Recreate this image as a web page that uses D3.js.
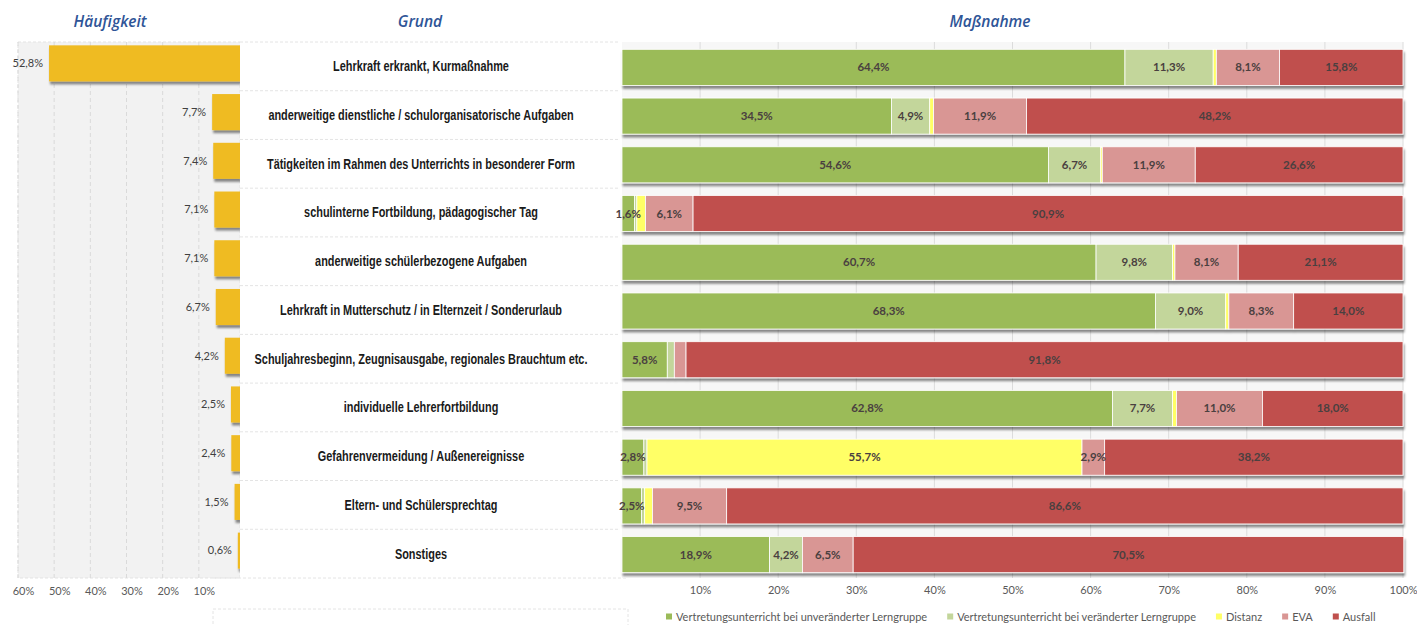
<!DOCTYPE html>
<html>
<head>
<meta charset="utf-8">
<script src="https://cdn.jsdelivr.net/npm/d3@7"></script>
<style>
  body { margin: 0; background: #fff; }
  svg { display: block; }
  .head { font-family: "Open Sans", sans-serif; font-style: italic; font-weight: 600; font-size: 15.5px; fill: #2f5597; }
  .reason { font-family: "Liberation Sans Narrow", "Arial Narrow", "Liberation Sans", Arial, sans-serif; font-weight: bold; font-size: 14px; fill: #1a1a1a; }
  .val { font-family: Lato, sans-serif; font-size: 11px; fill: #404040; }
  .seg { font-family: Lato, sans-serif; font-weight: bold; font-size: 11.5px; fill: #4a4040; }
  .axis text { font-family: Lato, sans-serif; font-size: 11px; fill: #595959; }
  .legend text { font-family: Lato, sans-serif; font-size: 11px; fill: #595959; }
</style>
</head>
<body>
<svg id="chart" width="1417" height="625"></svg>
<script>
// reasons (Grund), top to bottom
const reasons = [
  "Lehrkraft erkrankt, Kurmaßnahme",
  "anderweitige dienstliche / schulorganisatorische Aufgaben",
  "Tätigkeiten im Rahmen des Unterrichts in besonderer Form",
  "schulinterne Fortbildung, pädagogischer Tag",
  "anderweitige schülerbezogene Aufgaben",
  "Lehrkraft in Mutterschutz / in Elternzeit / Sonderurlaub",
  "Schuljahresbeginn, Zeugnisausgabe, regionales Brauchtum etc.",
  "individuelle Lehrerfortbildung",
  "Gefahrenvermeidung / Außenereignisse",
  "Eltern- und Schülersprechtag",
  "Sonstiges"
];

// Häufigkeit (%)
const frequency = [52.8, 7.7, 7.4, 7.1, 7.1, 6.7, 4.2, 2.5, 2.4, 1.5, 0.6];

// Maßnahme series (% per reason)
const measures = [
  "Vertretungsunterricht bei unveränderter Lerngruppe",
  "Vertretungsunterricht bei veränderter Lerngruppe",
  "Distanz",
  "EVA",
  "Ausfall"
];
const unchangedGroup = [64.4, 34.5, 54.6, 1.6, 60.7, 68.3, 5.8, 62.8, 2.8, 2.5, 18.9];
const changedGroup   = [11.3, 4.9, 6.7, 0.3, 9.8, 9.0, 0.9, 7.7, 0.4, 0.4, 4.2];
const distance       = [0.4, 0.5, 0.2, 1.1, 0.3, 0.4, 0.0, 0.5, 55.7, 1.0, 0.0];
const eva            = [8.1, 11.9, 11.9, 6.1, 8.1, 8.3, 1.5, 11.0, 2.9, 9.5, 6.5];
const cancelled      = [15.8, 48.2, 26.6, 90.9, 21.1, 14.0, 91.8, 18.0, 38.2, 86.6, 70.5];

const headers = ["Häufigkeit", "Grund", "Maßnahme"];
const leftTicks = [60, 50, 40, 30, 20, 10];
const rightTicks = [10, 20, 30, 40, 50, 60, 70, 80, 90, 100];

const colors = ["#9bbb59", "#c3d69b", "#ffff66", "#d99694", "#c0504d"];

const pct = d => d3.format(".1f")(d).replace(".", ",") + "%";

const svg = d3.select("#chart");

// shadow under bars
const defs = svg.append("defs");
const f = defs.append("filter").attr("id", "shadow")
  .attr("x", "-5%").attr("y", "-20%").attr("width", "110%").attr("height", "150%");
f.append("feDropShadow").attr("dx", 1).attr("dy", 3).attr("stdDeviation", 1.2)
  .attr("flood-color", "#000").attr("flood-opacity", 0.45);

const plotTop = 42, plotBottom = 578;
const y = d3.scaleBand().domain(reasons).range([plotTop, plotBottom])
  .paddingInner(0.26).paddingOuter(0.13);
const rowY = d3.scaleBand().domain(reasons).range([plotTop, plotBottom]);

/* ---- headers ---- */
svg.append("g").selectAll("text").data(headers).join("text")
  .attr("class", "head")
  .attr("x", (d, i) => [110, 420, 990][i]).attr("y", 27)
  .attr("text-anchor", "middle")
  .text(d => d);

/* ---- left panel: Häufigkeit ---- */
const xL = d3.scaleLinear().domain([0, 60]).range([240, 23]);

svg.append("rect").attr("x", 18).attr("y", plotTop).attr("width", 222).attr("height", plotBottom - plotTop)
  .attr("fill", "#f2f2f2").attr("stroke", "#e3e3e3").attr("stroke-dasharray", "3,2");

svg.append("g").selectAll("line").data(leftTicks).join("line")
  .attr("x1", d => xL(d) - 5).attr("x2", d => xL(d) - 5)
  .attr("y1", plotTop).attr("y2", plotBottom)
  .attr("stroke", "#dadada").attr("stroke-dasharray", "4,3");

svg.append("g").attr("filter", "url(#shadow)")
  .selectAll("rect").data(frequency).join("rect")
  .attr("x", d => xL(d)).attr("width", d => xL(0) - xL(d))
  .attr("y", (d, i) => y(reasons[i]) - 3).attr("height", y.bandwidth())
  .attr("fill", "#efbb24");

svg.append("g").selectAll("text").data(frequency).join("text")
  .attr("class", "val")
  .attr("x", d => xL(d) - 6).attr("y", (d, i) => y(reasons[i]) + y.bandwidth() / 2 - 3)
  .attr("dy", "0.35em").attr("text-anchor", "end")
  .text(pct);

const axL = svg.append("g").attr("class", "axis")
  .attr("transform", `translate(0,${plotBottom + 6})`)
  .call(d3.axisBottom(xL).tickValues(leftTicks).tickSize(0).tickFormat(d => d + "%"));
axL.select(".domain").remove();

/* ---- middle panel: Grund ---- */
svg.append("rect").attr("x", 240).attr("y", plotTop).attr("width", 380).attr("height", plotBottom - plotTop)
  .attr("fill", "#fff");
svg.append("g").selectAll("line").data(reasons.slice(1)).join("line")
  .attr("x1", 240).attr("x2", 620)
  .attr("y1", d => rowY(d)).attr("y2", d => rowY(d))
  .attr("stroke", "#e4e4e4").attr("stroke-dasharray", "3,2");
svg.append("line").attr("x1", 213).attr("x2", 628).attr("y1", plotBottom).attr("y2", plotBottom)
  .attr("stroke", "#e4e4e4").attr("stroke-dasharray", "3,2");
svg.append("line").attr("x1", 240).attr("x2", 620).attr("y1", plotTop).attr("y2", plotTop)
  .attr("stroke", "#e4e4e4").attr("stroke-dasharray", "3,2");
// empty legend box of the middle chart
svg.append("rect").attr("x", 213).attr("y", 609).attr("width", 415).attr("height", 30)
  .attr("fill", "none").attr("stroke", "#e4e4e4").attr("stroke-dasharray", "3,2");

// condensed look: squeeze the bold sans horizontally
svg.append("g").selectAll("text").data(reasons).join("text")
  .attr("class", "reason")
  .attr("transform", d => `translate(421,${rowY(d) + rowY.bandwidth() / 2}) scale(0.78,1)`)
  .attr("dy", "0.35em").attr("text-anchor", "middle")
  .text(d => d);

/* ---- right panel: Maßnahme ---- */
const xR = d3.scaleLinear().domain([0, 100]).range([622, 1403]);

svg.append("rect").attr("x", xR(0)).attr("y", plotTop).attr("width", xR(100) - xR(0)).attr("height", plotBottom - plotTop)
  .attr("fill", "#f7f7f7");
svg.append("g").selectAll("line").data(rightTicks).join("line")
  .attr("x1", d => xR(d)).attr("x2", d => xR(d))
  .attr("y1", plotTop).attr("y2", plotBottom)
  .attr("stroke", "#dcdcdc");

const table = reasons.map((r, i) => ({
  reason: r,
  m0: unchangedGroup[i], m1: changedGroup[i], m2: distance[i], m3: eva[i], m4: cancelled[i]
}));
const stack = d3.stack().keys(["m0", "m1", "m2", "m3", "m4"])(table);

const rows = svg.append("g").selectAll("g").data(reasons).join("g")
  .attr("filter", "url(#shadow)");
rows.selectAll("rect")
  .data((r, i) => stack.map((s, k) => ({ k, a: s[i][0], b: s[i][1], r })).filter(d => d.b > d.a))
  .join("rect")
  .attr("x", d => xR(d.a)).attr("width", d => xR(d.b) - xR(d.a))
  .attr("y", d => y(d.r) + 1).attr("height", y.bandwidth())
  .attr("fill", d => colors[d.k])
  .attr("stroke", "#fff").attr("stroke-width", 0.8);

const segs = [];
stack.forEach((s, k) => s.forEach((p, i) => {
  const v = p[1] - p[0];
  if (v >= 1.5) segs.push({ k, v, mid: (p[0] + p[1]) / 2, r: reasons[i] });
}));
svg.append("g").selectAll("text").data(segs).join("text")
  .attr("class", "seg")
  .attr("x", d => xR(d.mid)).attr("y", d => y(d.r) + 1 + y.bandwidth() / 2)
  .attr("dy", "0.35em").attr("text-anchor", "middle")
  .text(d => pct(d.v));

const axR = svg.append("g").attr("class", "axis")
  .attr("transform", `translate(0,${plotBottom + 5})`)
  .call(d3.axisBottom(xR).tickValues(rightTicks).tickSize(0).tickFormat(d => d + "%"));
axR.select(".domain").remove();

/* ---- legend ---- */
const lg = svg.append("g").attr("class", "legend").attr("transform", "translate(666,617)");
let lx = 0;
measures.forEach((m, k) => {
  const it = lg.append("g").attr("transform", `translate(${lx},0)`);
  it.append("rect").attr("x", 0).attr("y", -3.5).attr("width", 6).attr("height", 6).attr("fill", colors[k]);
  const t = it.append("text").attr("x", 10).attr("dy", "0.35em").text(m);
  lx += 10 + t.node().getComputedTextLength() + 20;
});
</script>
</body>
</html>
